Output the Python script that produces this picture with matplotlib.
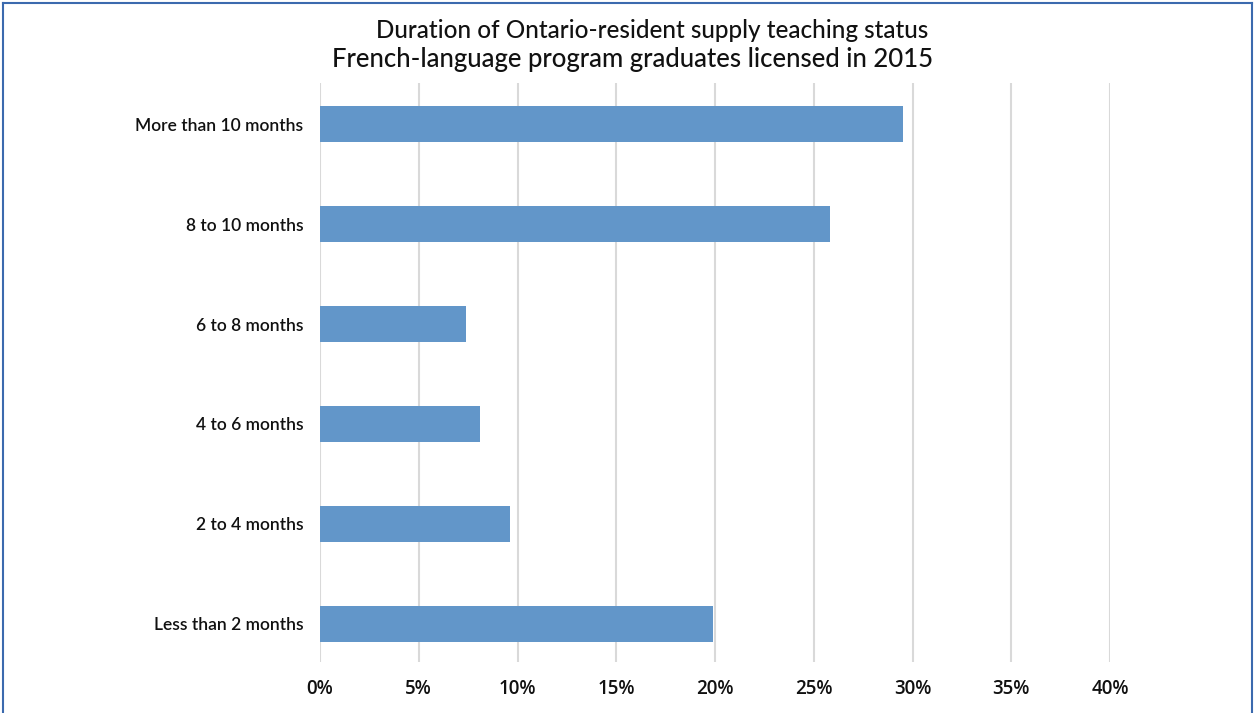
import matplotlib.pyplot as plt
from matplotlib.lines import Line2D
from matplotlib.ticker import PercentFormatter

categories = ["More than 10 months", "8 to 10 months", "6 to 8 months",
              "4 to 6 months", "2 to 4 months", "Less than 2 months"]
values = [29.5, 25.8, 7.4, 8.1, 9.6, 19.9]
xticks = [0, 5, 10, 15, 20, 25, 30, 35, 40]

W, H = 1255, 713
fig = plt.figure(figsize=(W / 100, H / 100), dpi=100)
ax = fig.add_axes([320 / W, 1 - 662 / H, 790 / W, 579 / H])

ypos = list(range(len(categories)))
ax.barh(ypos, values, height=0.36, color="#6296C9", zorder=3)
ax.set_ylim(5.38, -0.41)
ax.set_xlim(0, 40)
ax.set_xticks(xticks)
ax.xaxis.set_major_formatter(PercentFormatter(decimals=0))
ax.set_yticks(ypos)
ax.set_yticklabels(categories, fontsize=12.5, family="Lato", weight="semibold",
                   color="#111111")
for lab in ax.get_xticklabels():
    lab.set_family("Open Sans")
    lab.set_fontsize(13.5)
    lab.set_weight("semibold")
    lab.set_color("#111111")
ax.tick_params(axis="both", length=0)
ax.tick_params(axis="y", pad=12)
ax.tick_params(axis="x", pad=12)
ax.grid(axis="x", color="#D9D9D9", linewidth=1.5, zorder=0)
for s in ax.spines.values():
    s.set_visible(False)

fig.text(0.52, 1 - 31 / H, "Duration of Ontario-resident supply teaching status",
         ha="center", va="center", fontsize=17.5, family="Lato", weight="medium",
         color="#111111")
fig.text(0.5044, 1 - 59 / H, "French-language program graduates licensed in 2015",
         ha="center", va="center", fontsize=18.5, family="Lato", weight="medium",
         color="#111111")

# blue frame around the figure
bc = "#3B6AAE"
fig.add_artist(Line2D([3 / W, 3 / W], [0, 1 - 3 / H], color=bc, lw=1.5))
fig.add_artist(Line2D([3 / W, 1252 / W], [1 - 3 / H, 1 - 3 / H], color=bc, lw=1.5))
fig.add_artist(Line2D([1252 / W, 1252 / W], [0, 1 - 3 / H], color=bc, lw=1.5))

fig.savefig("out.png", dpi=100)
